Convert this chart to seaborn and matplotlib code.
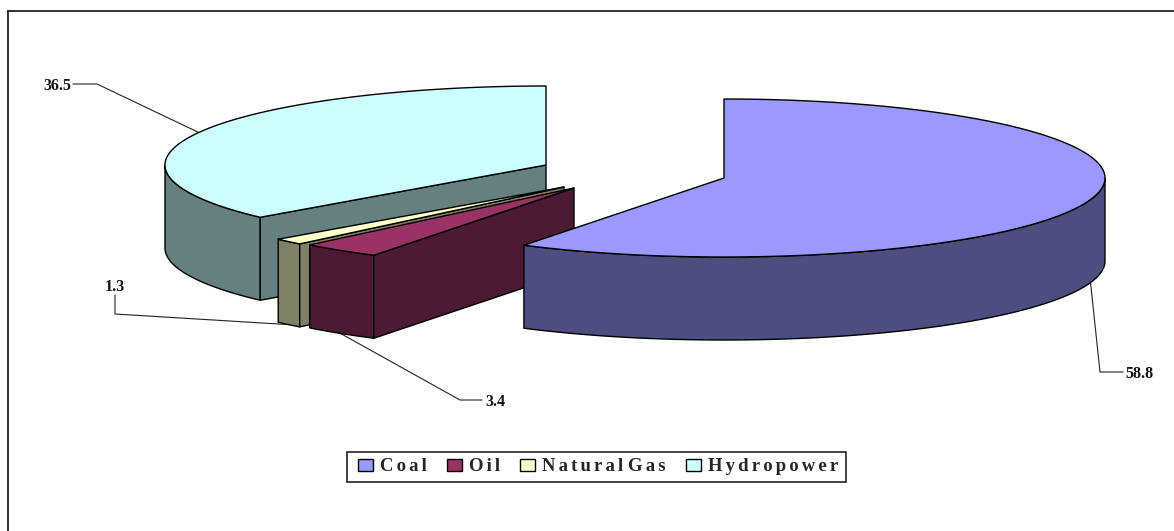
import numpy as np
import matplotlib
matplotlib.use("Agg")
import matplotlib.pyplot as plt
from matplotlib.patches import Patch, Rectangle
import seaborn as sns

# Energy mix shares, in percent
categories = ["Coal", "Oil", "Natural Gas", "Hydropower"]
shares = [58.8, 3.4, 1.3, 36.5]

top_colors = ["#9999FF", "#993366", "#FFFFCC", "#CCFFFF"]
side_colors = ["#4D4D80", "#4D1A33", "#808066", "#668080"]

# Projection of the exploded pie, in pixel-based axes units
slice_centers = [(724, 178), (574, 188), (564, 187), (546, 165)]
radius_x, radius_y, depth = 381, 79, 83

# Leader line elbows and label anchors, one per category
leader_elbows = [[(1100, 372), (1123, 372)], [(460, 400), (482, 400)],
                 [(115, 314), (115, 295)], [(97, 84), (73, 84)]]
label_anchors = [(1125, 374), (485, 402), (115, 287), (71, 86)]
label_aligns = ["left", "left", "center", "right"]

sns.set_theme(style="white")
serif = ["Liberation Serif", "DejaVu Serif"]

fig = plt.figure(figsize=(11.74, 5.31), dpi=100)
ax = fig.add_axes([8 / 1174, 0, 1 - 8 / 1174, 1 - 11 / 531])
ax.set_xlim(8, 1174)
ax.set_ylim(531, 11)
ax.set_xticks([])
ax.set_yticks([])
for name, spine in ax.spines.items():
    spine.set_visible(name in ("top", "left"))
    spine.set_color("#222222")
    spine.set_linewidth(1.3)


def rim(center, angles_deg, drop=0.0):
    """Points on the slice rim; angles run clockwise from 12 o'clock."""
    a = np.radians(angles_deg)
    return np.column_stack((center[0] + radius_x * np.sin(a),
                            center[1] - radius_y * np.cos(a) + drop))


def draw_face(points, color, zorder):
    ax.fill(points[:, 0], points[:, 1], facecolor=color, edgecolor="black",
            linewidth=1.0, joinstyle="round", zorder=zorder)


edges = np.concatenate(([0.0], np.cumsum(shares))) * 3.6
draw_order = [3, 2, 1, 0]

for layer, i in enumerate(draw_order):
    start, end = edges[i], edges[i + 1]
    center = slice_centers[i]
    z = 3 + layer * 3

    # Outer wall: only the part of the rim facing the viewer
    lo, hi = max(start, 90.0), min(end, 270.0)
    if hi > lo:
        arc = np.linspace(lo, hi, 160)
        wall = np.vstack((rim(center, arc), rim(center, arc[::-1], depth)))
        draw_face(wall, side_colors[i], z)

    # Radial wall along a cut face when it turns toward the viewer
    for angle, visible in ((start, np.sin(np.radians(start)) < -1e-6),
                           (end, np.sin(np.radians(end)) > 1e-6)):
        if visible:
            p = rim(center, [angle])[0]
            face = np.array([center, p, p + (0, depth),
                             (center[0], center[1] + depth)])
            draw_face(face, side_colors[i], z + 1)

    # Top face
    arc = np.linspace(start, end, 240)
    top = np.vstack(([center], rim(center, arc)))
    draw_face(top, top_colors[i], z + 2)

# Leader lines run from the middle of each slice's rim out to its label
for i, value in enumerate(shares):
    mid = (edges[i] + edges[i + 1]) / 2
    front = np.cos(np.radians(mid)) < 0
    anchor = rim(slice_centers[i], [mid], depth if front else 0.0)[0]
    path = np.vstack(([anchor], leader_elbows[i]))
    ax.plot(path[:, 0], path[:, 1], color="#222222", linewidth=0.8, zorder=1)
    ax.text(*label_anchors[i], f"{value:.1f}", family=serif, weight="bold",
            fontsize=11.5, color="#111111", ha=label_aligns[i], va="center",
            zorder=20)

# Legend with widely tracked bold labels inside a plain box
tracked = [" ".join("\u2006".join(word) for word in name.split())
           for name in categories]
ax.add_patch(Rectangle((347, 452), 499, 30, facecolor="white",
                       edgecolor="#222222", linewidth=1.2, zorder=19))
handles = [Patch(facecolor=c, edgecolor="black", linewidth=1.0) for c in top_colors]
legend = ax.legend(handles, tracked, ncol=4, loc="center",
                   bbox_to_anchor=(598, 467), bbox_transform=ax.transData,
                   prop={"family": serif, "weight": "bold", "size": 13.5},
                   handlelength=0.8, handleheight=0.64, handletextpad=0.37,
                   columnspacing=1.07, borderpad=0.2, borderaxespad=0,
                   frameon=False)
legend.set_zorder(20)

fig.savefig("out.png", dpi=100, facecolor="white")
